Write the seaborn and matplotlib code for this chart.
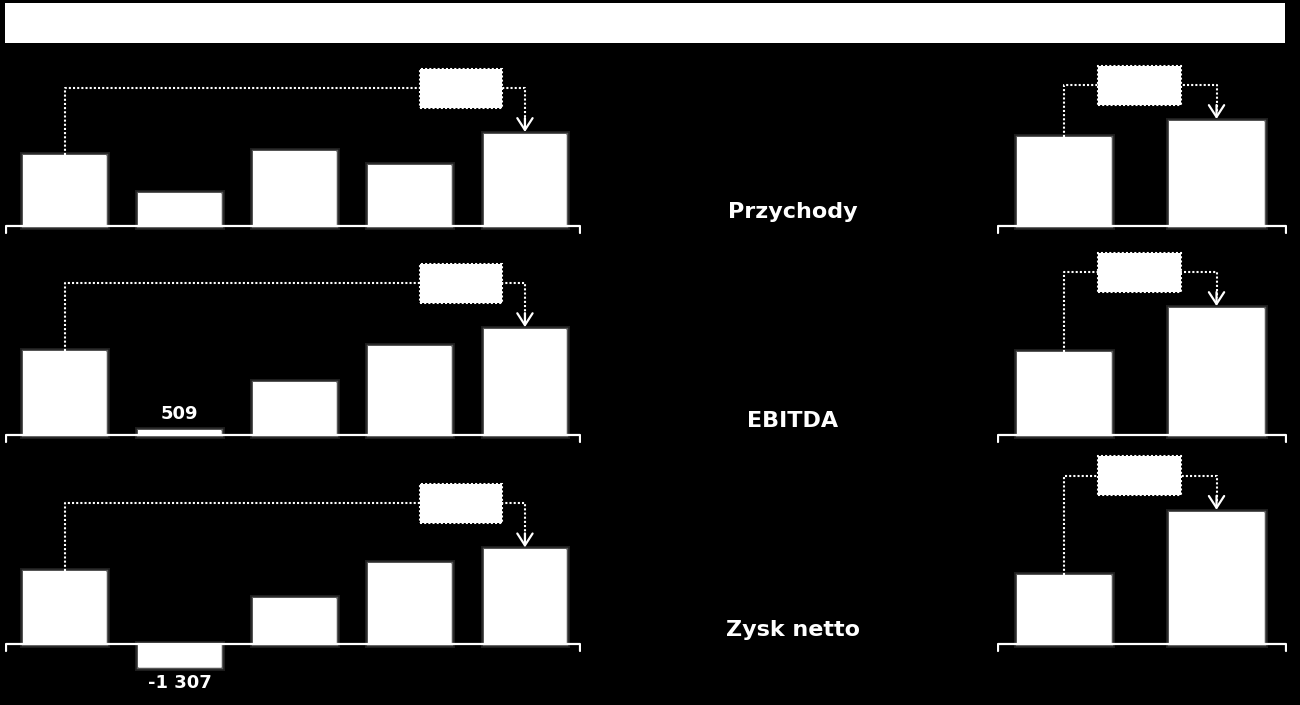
import matplotlib
matplotlib.use("Agg")
import matplotlib.pyplot as plt
import matplotlib.patheffects as pe
from matplotlib.patches import Rectangle
import seaborn as sns

W, H = 1300, 705

# data (only 509 and -1 307 are printed)
periods = ["2008", "2009", "2010", "2011", "2012"]
periods_h = ["H1 2012", "H1 2013"]
metrics = ["Przychody", "EBITDA", "Zysk netto"]
przychody = [35500, 16500, 37500, 30500, 46000]
ebitda = [8550, 509, 5400, 9100, 10800]
zysk_netto = [4100, -1307, 2550, 4550, 5300]
przychody_h = [44500, 52500]
ebitda_h = [8450, 12950]
zysk_netto_h = [3850, 7400]
value_labels = {"EBITDA": "509", "Zysk netto": "-1 307"}

# layout (pixels)
baselines = [226, 435, 644]
scales = [500, 102, 56]  # data units per pixel in each row

sns.set_style("white")
fig = plt.figure(figsize=(W / 100, H / 100), dpi=100, facecolor="black")

fig.add_artist(Rectangle((5 / W, 1 - 43 / H), 1280 / W, 40 / H,
                         transform=fig.transFigure, fc="white", ec="none"))

glow = [pe.withStroke(linewidth=5, foreground=(1, 1, 1, 0.12)),
        pe.withStroke(linewidth=2.5, foreground=(1, 1, 1, 0.25)),
        pe.Normal()]
dotted = dict(color="white", lw=1.5, ls=(0, (1, 1)))


def panel(x0, x1, base, s, cats, vals, width, xlim, box_cx, box_w, gap):
    ax = fig.add_axes([x0 / W, 1 - (base + 50) / H, (x1 - x0) / W, 240 / H])
    ax.set_facecolor("black")
    sns.barplot(x=cats, y=vals, ax=ax, color="white", saturation=1,
                width=width, edgecolor="none", zorder=2)
    for p in ax.patches:
        p.set_path_effects(glow)
    n = len(cats)
    ax.set_xlim(*xlim)
    ax.set_ylim(-50 * s, 190 * s)
    ax.axis("off")
    # baseline with end ticks
    a, b = xlim[0] + 0.005, xlim[1] - 0.005
    ax.plot([a, a, b, b], [-7 * s, 0, 0, -7 * s], color="white", lw=1.6, zorder=3)
    # connector
    yc = max(vals[0], vals[-1]) + gap * s
    ax.plot([0, 0, n - 1, n - 1], [vals[0], yc, yc, vals[-1] + 10 * s],
            zorder=3, **dotted)
    ax.add_patch(Rectangle((box_cx - box_w / 2, yc - 19.5 * s), box_w, 39 * s,
                           fc="white", ec="white", lw=1.5, ls=(0, (1, 1)),
                           zorder=4, clip_on=False))
    ax.annotate("", xy=(n - 1, vals[-1] + 2 * s), xytext=(n - 1, vals[-1] + 16 * s),
                arrowprops=dict(arrowstyle="->,head_length=0.85,head_width=0.55",
                                color="white", lw=1.6, shrinkA=0, shrinkB=0), zorder=5)
    return ax


rows = [(przychody, przychody_h), (ebitda, ebitda_h), (zysk_netto, zysk_netto_h)]
for name, (vals, vals_h), base, s in zip(metrics, rows, baselines, scales):
    ax = panel(5, 581, base, s, periods, vals, 0.72, (-0.517, 4.487), 3.445, 0.712, 46)
    panel(997, 1287, base, s, periods_h, vals_h, 0.62, (-0.439, 1.462), 0.495, 0.544, 36)
    fig.text(793 / W, 1 - (base - 14) / H, name, color="white", fontsize=16,
             fontweight="bold", ha="center", va="center")
    if name in value_labels:
        v = vals[1]
        off = 7 * s if v >= 0 else -7 * s
        ax.text(1, v + off, value_labels[name], color="white", fontsize=13,
                fontweight="bold", ha="center", va="bottom" if v >= 0 else "top",
                clip_on=False)

fig.savefig("out.png", dpi=100, facecolor="black")
